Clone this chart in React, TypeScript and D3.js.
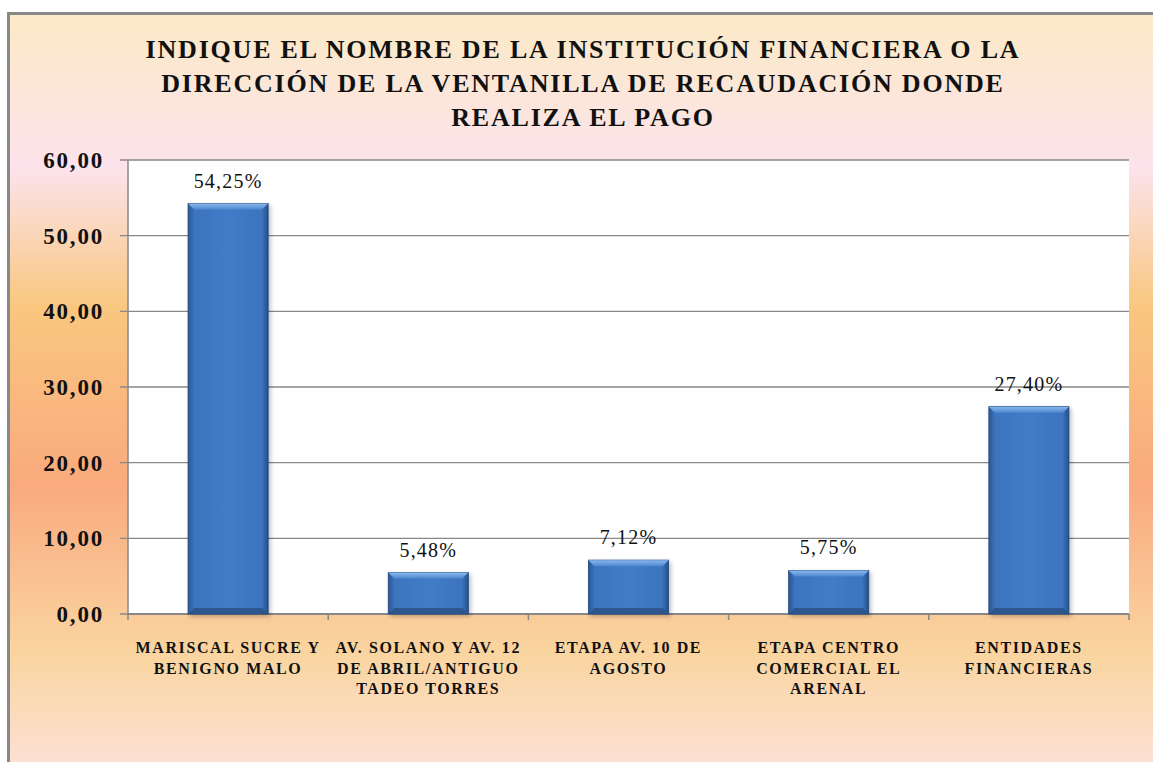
import React from "react";
import * as d3 from "d3";

const categories: string[][] = [
  ["MARISCAL SUCRE Y", "BENIGNO MALO"],
  ["AV. SOLANO Y AV. 12", "DE ABRIL/ANTIGUO", "TADEO TORRES"],
  ["ETAPA AV. 10 DE", "AGOSTO"],
  ["ETAPA CENTRO", "COMERCIAL EL", "ARENAL"],
  ["ENTIDADES", "FINANCIERAS"],
];
const values: number[] = [54.25, 5.48, 7.12, 5.75, 27.4];
const valueLabels: string[] = ["54,25%", "5,48%", "7,12%", "5,75%", "27,40%"];
const yTicks: number[] = [0, 10, 20, 30, 40, 50, 60];
const titleLines: string[] = [
  "INDIQUE EL NOMBRE DE LA INSTITUCIÓN FINANCIERA O LA",
  "DIRECCIÓN DE LA VENTANILLA DE RECAUDACIÓN DONDE",
  "REALIZA EL PAGO",
];

export default function App() {
  const W = 1153, H = 762;
  const left = 128, right = 1129, top = 160, bottom = 614;
  const x = d3.scaleBand<number>().domain(d3.range(values.length)).range([left, right]).paddingInner(0.6).paddingOuter(0.3);
  const xb = d3.scaleBand<number>().domain(d3.range(values.length)).range([left, right]);
  const y = d3.scaleLinear().domain([0, 60]).range([bottom, top]);
  const fmt = (v: number) => d3.format(".2f")(v).replace(".", ",");
  const font = "Liberation Serif, DejaVu Serif, serif";
  return (
    <svg width={W} height={H} style={{ position: "absolute", left: 0, top: 0 }} fontFamily={font}>
      <defs>
        <linearGradient id="bg" x1="0" y1="0" x2="0" y2="1">
          <stop offset="0.02" stopColor="#FBE9C9" />
          <stop offset="0.2" stopColor="#FCE3EC" />
          <stop offset="0.38" stopColor="#F9C77F" />
          <stop offset="0.61" stopColor="#F9AA7E" />
          <stop offset="0.83" stopColor="#FAD5A0" />
          <stop offset="1" stopColor="#FCE2DE" />
        </linearGradient>
        <linearGradient id="barH" x1="0" y1="0" x2="1" y2="0">
          <stop offset="0" stopColor="#2A5896" />
          <stop offset="0.08" stopColor="#3C74BE" />
          <stop offset="0.5" stopColor="#407CC8" />
          <stop offset="0.92" stopColor="#3C74BE" />
          <stop offset="1" stopColor="#24508C" />
        </linearGradient>
        <linearGradient id="barTop" x1="0" y1="0" x2="0" y2="1">
          <stop offset="0" stopColor="#8AB8EC" />
          <stop offset="1" stopColor="#4F88D0" />
        </linearGradient>
        <filter id="shadow" x="-20%" y="-10%" width="140%" height="120%">
          <feDropShadow dx="2" dy="2" stdDeviation="2" floodColor="#000" floodOpacity="0.25" />
        </filter>
      </defs>
      <rect x={0} y={0} width={W} height={H} fill="#ffffff" />
      <rect x={8.5} y={13.5} width={W + 10} height={H + 10} fill="url(#bg)" stroke="#888" strokeWidth={3} />
      {titleLines.map((t, i) => (
        <text key={i} x={583} y={58 + i * 34} textAnchor="middle" fontWeight="bold" fontSize={26} letterSpacing={1.8} fill="#111">{t}</text>
      ))}
      <rect x={left} y={top} width={right - left} height={bottom - top} fill="#fff" />
      {yTicks.map((t) => (
        <g key={t}>
          <line x1={left - 8} x2={right} y1={y(t)} y2={y(t)} stroke="#888" strokeWidth={1.3} />
          <text x={104} y={y(t) + 8} textAnchor="end" fontWeight="bold" fontSize={23} letterSpacing={1.8} fill="#111">{fmt(t)}</text>
        </g>
      ))}
      <line x1={left} x2={left} y1={top} y2={bottom} stroke="#888" strokeWidth={1.5} />
      <line x1={left} x2={right} y1={bottom} y2={bottom} stroke="#888" strokeWidth={2} />
      {d3.range(values.length + 1).map((i) => {
        const xx = i < values.length ? (xb(i) as number) : right;
        return <line key={i} x1={xx} x2={xx} y1={bottom} y2={bottom + 6} stroke="#888" strokeWidth={1.5} />;
      })}
      {values.map((v, i) => {
        const bx = x(i) as number;
        const bw = x.bandwidth();
        const by = y(v);
        const bh = bottom - by;
        const bev = 6;
        return (
          <g key={i}>
            <rect x={bx} y={by} width={bw} height={bh} fill="url(#barH)" stroke="#1E4577" strokeWidth={0.8} filter="url(#shadow)" />
            <polygon points={`${bx},${by} ${bx + bw},${by} ${bx + bw - bev},${by + bev} ${bx + bev},${by + bev}`} fill="url(#barTop)" />
            <polygon points={`${bx},${bottom} ${bx + bw},${bottom} ${bx + bw - bev},${bottom - bev} ${bx + bev},${bottom - bev}`} fill="#2A4F82" opacity={0.8} />
            <text x={bx + bw / 2} y={by - 16} textAnchor="middle" fontSize={20} letterSpacing={1.2} fill="#111">{valueLabels[i]}</text>
          </g>
        );
      })}
      {categories.map((lines, i) => {
        const cx = (xb(i) as number) + xb.bandwidth() / 2;
        return (
          <text key={i} x={cx} textAnchor="middle" fontWeight="bold" fontSize={16} letterSpacing={1.6} fill="#111">
            {lines.map((l, j) => (
              <tspan key={j} x={cx} y={653 + j * 20.5}>{l}</tspan>
            ))}
          </text>
        );
      })}
    </svg>
  );
}
